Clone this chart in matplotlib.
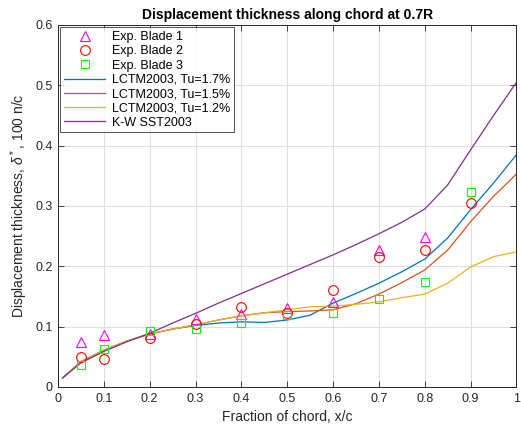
import numpy as np
import matplotlib.pyplot as plt

plt.rcParams['font.family'] = ['Liberation Sans', 'DejaVu Sans']
plt.rcParams['mathtext.fontset'] = 'custom'
plt.rcParams['mathtext.rm'] = 'Liberation Sans'
plt.rcParams['mathtext.it'] = 'Liberation Sans:italic'

# experimental points
x_exp = [0.05, 0.1, 0.2, 0.3, 0.4, 0.5, 0.6, 0.7, 0.8, 0.9]
blade1 = [0.075, 0.086, 0.088, 0.113, 0.121, 0.131, 0.141, 0.227, 0.249, np.nan]
blade2 = [0.050, 0.046, 0.081, 0.104, 0.132, 0.122, 0.160, 0.216, 0.227, 0.305]
blade3 = [0.036, 0.063, 0.093, 0.096, 0.106, 0.119, 0.122, 0.146, 0.174, 0.324]

# simulations
x_sim = [0.01, 0.05, 0.1, 0.15, 0.2, 0.25, 0.3, 0.35, 0.4, 0.45, 0.5, 0.55,
         0.6, 0.65, 0.7, 0.75, 0.8, 0.85, 0.9, 0.95, 1.0]
tu17 = [0.015, 0.042, 0.061, 0.076, 0.088, 0.096, 0.102, 0.106, 0.108, 0.107, 0.111, 0.119,
        0.139, 0.155, 0.172, 0.191, 0.212, 0.247, 0.294, 0.338, 0.385]
tu15 = [0.015, 0.042, 0.061, 0.076, 0.088, 0.096, 0.103, 0.111, 0.118, 0.123, 0.125, 0.126,
        0.128, 0.138, 0.154, 0.173, 0.194, 0.227, 0.274, 0.316, 0.353]
tu12 = [0.015, 0.042, 0.061, 0.076, 0.088, 0.096, 0.103, 0.111, 0.118, 0.123, 0.128, 0.133,
        0.134, 0.137, 0.141, 0.148, 0.154, 0.172, 0.199, 0.216, 0.224]
kw = [0.015, 0.040, 0.059, 0.075, 0.089, 0.106, 0.122, 0.139, 0.155, 0.171, 0.187, 0.203,
      0.219, 0.236, 0.254, 0.273, 0.295, 0.335, 0.393, 0.450, 0.505]

fig = plt.figure(figsize=(5.21, 4.36), dpi=100)
ax = fig.add_axes([0.1113, 0.1124, 0.880, 0.8303])

ax.plot(x_exp, blade1, '^', color='#FF00FF', mfc='none', ms=7, mew=0.8, label='Exp. Blade 1', zorder=4)
ax.plot(x_exp, blade2, 'o', color='#FF0000', mfc='none', ms=7, mew=0.8, label='Exp. Blade 2', zorder=4)
ax.plot(x_exp, blade3, 's', color='#00FF00', mfc='none', ms=6, mew=0.8, label='Exp. Blade 3', zorder=4)
ax.plot(x_sim, tu17, color='#0072BD', lw=0.9, label='LCTM2003, Tu=1.7%')
ax.plot(x_sim, tu15, color='#D95319', lw=0.9, label='LCTM2003, Tu=1.5%')
ax.plot(x_sim, tu12, color='#EDB120', lw=0.9, label='LCTM2003, Tu=1.2%')
ax.plot(x_sim, kw, color='#7E2F8E', lw=0.9, label='K-W SST2003')

ax.set_xlim(0, 1)
ax.set_ylim(0, 0.6)
ax.set_xticks(np.arange(0, 1.01, 0.1))
ax.set_xticklabels(['0', '0.1', '0.2', '0.3', '0.4', '0.5', '0.6', '0.7', '0.8', '0.9', '1'])
ax.set_yticks(np.arange(0, 0.61, 0.1))
ax.set_yticklabels(['0', '0.1', '0.2', '0.3', '0.4', '0.5', '0.6'])
ax.tick_params(direction='in', top=True, right=True, length=4, width=0.6,
               labelsize=9, colors='#262626', pad=4)
ax.grid(True, color='#E0E0E0', lw=0.8)
ax.set_axisbelow(True)
for s in ax.spines.values():
    s.set_color('#262626')
    s.set_linewidth(0.7)

ax.set_xlabel('Fraction of chord, x/c', fontsize=10, color='#262626')
ax.set_ylabel(r'Displacement thickness, $\delta^*$, 100 n/c', fontsize=10, color='#262626')
ax.set_title('Displacement thickness along chord at 0.7R', fontsize=10, fontweight='bold', pad=4)

leg = ax.legend(loc='upper left', fontsize=9, frameon=True, fancybox=False,
                edgecolor='#262626', handlelength=3.3, borderaxespad=0.2,
                labelspacing=0.18, borderpad=0.3, handletextpad=0.5)
leg.get_frame().set_linewidth(0.7)

fig.savefig('out.png', dpi=100)
